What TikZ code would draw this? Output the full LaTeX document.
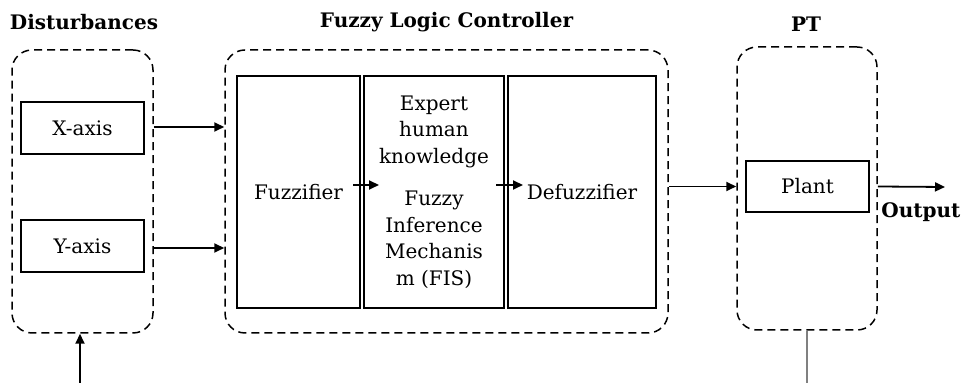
\documentclass[tikz,border=0pt]{standalone}
\usepackage{fontspec}
\setmainfont{DejaVu Serif}
\usetikzlibrary{arrows.meta,positioning}

\begin{document}
\begin{tikzpicture}[
  x=0.5pt, y=-0.5pt,
  grp/.style={draw, dash pattern=on 4pt off 2.5pt, line width=0.75pt, rounded corners=10pt, minimum width=70.5pt, minimum height=141.5pt},
  blk/.style={draw, line width=1pt, minimum width=61.5pt, minimum height=26pt, font=\fontsize{10}{13.25}\selectfont},
  stage/.style={blk, minimum height=116pt, align=center, inner sep=1pt},
  ttl/.style={font=\bfseries\fontsize{10}{12}\selectfont},
  arr/.style={-{Triangle[length=5pt,width=4.5pt]}, line width=0.9pt}
]
  \useasboundingbox (0,0) rectangle (963,383);

  % groups
  \node[grp] (dgrp) at (82.5,191.5) {};
  \node[grp, minimum width=221.5pt] (fgrp) at (446.5,191.5) {};
  \node[grp, minimum width=70pt] (pgrp) at (807,188.5) {};

  % titles
  \node[ttl] (dttl) at (84,22) {Disturbances};
  \node[ttl] (fttl) at (446.5,22) {Fuzzy Logic Controller};
  \node[ttl] (pttl) at (806,24) {PT};

  % disturbance inputs
  \node[blk] (xax) at (82.5,128) {X-axis};
  \node[blk] (yax) at (82.5,246) {Y-axis};

  % controller stages
  \node[stage] (fuz) at (298.5,192) {Fuzzifier};
  \node[stage, minimum width=70pt] (fis) at (434,192) {Expert\\human\\knowledge\\[8pt]Fuzzy\\Inference\\Mechanis\\m (FIS)};
  \node[stage, minimum width=74pt] (dfz) at (582,192) {Defuzzifier};

  % plant
  \node[blk, minimum height=25.5pt] (plant) at (807.5,186.5) {Plant};
  \node[ttl, anchor=west, inner sep=0pt] (outlbl) at (881,212) {Output};

  \coordinate (din) at (80,383);
  \coordinate (pout) at (945,187);
  \coordinate (pbot) at (807,383);

  \draw[arr] ([yshift=0.5pt]dgrp.east |- xax) -- ([yshift=0.5pt]fgrp.west |- xax);
  \draw[arr] ([yshift=-1pt]dgrp.east |- yax) -- ([yshift=-1pt]fgrp.west |- yax);
  \draw[arr] (din) -- (din |- dgrp.south);
  \draw[arr] ([shift={(-4pt,3.5pt)}]fuz.east) -- ([shift={(8pt,3.5pt)}]fis.west);
  \draw[arr] ([shift={(-4.5pt,3.5pt)}]fis.east) -- ([shift={(8pt,3.5pt)}]dfz.west);
  \draw[arr] (fgrp.east |- plant) -- (pgrp.west |- plant);
  \draw[arr] (pgrp.east |- plant) -- (pout);
  \draw[gray, line width=0.6pt] (pgrp.south) -- (pbot);
\end{tikzpicture}
\end{document}
